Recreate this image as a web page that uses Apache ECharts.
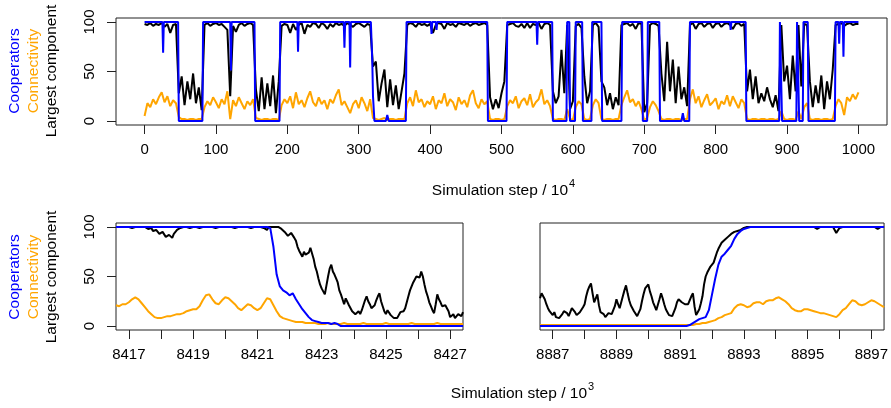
<!DOCTYPE html>
<html><head><meta charset="utf-8">
<script src="https://cdn.jsdelivr.net/npm/echarts@6/dist/echarts.min.js"></script>
<style>html,body{margin:0;padding:0;background:#fff}#c{width:891px;height:408px}</style>
</head><body><div id="c"></div>
<script>
// ---------- top panel (x in units of 10^4 steps, sampled every 4) ----------
const topStart = 0, topStep = 4;
const topConnectivity = [
  5,18,14,22,17,24,29,19,25,15,21,18,4,2,2,1,2,2,1,2,2,14,20,16,24,
  19,13,22,17,30,2,21,15,24,18,12,20,16,22,3,2,1,2,2,1,2,2,1,16,22,
  18,25,13,29,17,21,14,23,30,19,15,24,17,21,12,22,18,26,32,16,20,14,8,17,21,
  13,24,18,10,22,3,2,1,2,3,1,2,2,1,2,2,2,18,24,15,31,19,22,14,20,
  17,25,12,21,18,28,15,22,19,11,24,17,21,14,26,31,18,13,22,17,20,2,1,2,2,
  1,2,15,21,18,25,13,20,23,16,27,14,19,22,32,17,21,15,2,1,2,2,1,12,2,
  1,14,20,17,2,1,2,16,22,18,2,1,2,2,1,2,2,16,24,31,19,22,15,20,12,
  1,3,14,20,16,10,2,1,2,2,1,2,2,1,2,2,22,32,18,25,14,21,27,16,19,
  23,12,20,17,26,15,25,19,13,22,18,2,1,2,2,1,2,2,1,2,2,1,2,10,2,
  1,2,2,1,10,2,14,18,2,1,2,2,1,2,2,1,2,15,22,18,6,24,20,27,22,
  29
];
const topLargest = [
  98,97,99,96,98,97,99,95,98,89,97,98,28,45,16,40,22,48,18,34,11,97,99,96,98,
  99,97,98,95,92,25,96,90,97,99,96,98,99,97,32,10,44,12,38,15,46,8,40,96,98,
  97,89,98,92,97,99,88,97,95,99,98,94,99,97,93,98,95,99,97,98,96,99,97,95,98,
  99,97,95,98,97,55,60,20,38,52,14,42,16,36,12,30,48,97,99,98,95,99,97,98,96,
  98,89,97,99,98,93,99,97,98,95,99,98,97,99,96,98,99,97,98,99,97,24,12,22,13,
  28,40,97,98,99,96,95,98,94,99,94,98,97,99,93,98,99,97,30,18,25,72,28,97,12,
  20,96,98,94,45,18,30,97,99,95,40,34,16,28,12,24,16,97,98,99,96,98,93,99,98,
  9,18,97,99,98,96,48,20,80,30,62,18,55,22,34,15,97,99,93,98,99,95,98,99,94,
  98,99,95,98,99,97,93,98,99,96,98,30,52,22,45,18,28,20,34,22,14,26,10,97,40,
  56,22,66,30,97,35,98,97,40,14,36,18,46,12,40,22,52,97,98,99,96,98,99,97,98,
  98
];
const topCooperators = [
  [0,100],[25,100],[26,69],[27,100],[47,100],[48,0],[81,0],[82,100],[120,100],[121,51],[122,100],
  [154,100],[155,0],[189,0],[190,100],[214,100],[215,70],[216,100],[279,100],[280,74],[281,100],
  [287,100],[288,54],[289,100],[317,100],[319,60],[320,25],[322,0],[338,0],[340,6],[342,0],[366,0],
  [367,100],[401,100],[402,88],[403,100],[408,100],[409,92],[410,100],[480,100],[481,0],[507,0],
  [508,100],[549,100],[550,77],[551,100],[571,100],[572,0],[591,0],[592,100],[595,100],[596,0],
  [603,0],[604,100],[613,100],[614,0],[626,0],[627,100],[640,100],[641,0],[668,0],[669,100],
  [697,100],[698,0],[704,0],[705,100],[721,100],[722,0],[752,0],[754,8],[756,0],[763,0],[764,100],
  [820,100],[821,92],[822,100],[842,100],[843,0],[889,0],[890,100],[892,100],[893,0],[913,0],
  [914,100],[916,100],[917,0],[922,0],[923,100],[929,100],[930,0],[967,0],[968,100],[972,100],
  [973,78],[974,100],[978,100],[979,65],[980,100],[1000,100]
];
const topTicks = [0,100,200,300,400,500,600,700,800,900,1000];

// ---------- bottom-left panel (units of 10^3 steps) ----------
const leftStart = 8416.6, bottomStep = 0.1, fineStep = 0.05;
const leftConnectivity = [
  21,20,22,22,24,27,29,27,23,19,15,12,9,8,8,9,10,10,11,12,12,13,15,16,17,17,20,26,31,32,
  27,23,22,26,29,28,25,22,18,16,19,22,21,18,16,18,23,28,27,21,15,10,8,7,6,5,4,4,4,3,
  3,3,3,2,2,2,3,2,2,2,2,3,2,2,2,2,2,3,2,2,2,2,2,2,3,2,2,2,2,2,
  2,2,3,2,2,2,2,2,2,2,3,2,2,2,2,2,2,2,2
];
// sampled every 0.05
const leftLargest = [
  100,100,100,100,100,99,100,100,100,98,99,100,100,100,100,99,100,100,100,99,
  98,97,99,96,96,97,95,93,94,95,93,90,91,92,90,89,93,95,97,98,
  99,100,100,100,100,99,99,100,100,100,100,99,99,100,100,100,100,99,100,100,
  100,100,99,100,100,100,100,99,100,100,100,100,100,99,99,100,100,100,100,99,
  100,100,100,99,99,100,100,100,100,100,100,98,99,97,97,100,100,100,100,100,
  100,100,100,98,97,95,94,91,90,94,93,89,86,80,76,73,70,75,72,70,
  74,79,77,68,60,55,48,42,38,35,32,41,50,58,62,55,52,48,44,36,
  32,27,22,28,26,21,18,15,14,12,10,15,12,16,18,26,30,25,22,18,
  16,21,26,30,33,25,20,15,12,16,14,11,10,8,6,8,9,14,12,15,
  18,24,30,36,40,44,47,50,52,49,55,50,42,35,30,24,20,16,13,22,
  32,27,24,20,18,21,22,15,9,11,12,8,10,12,13,10,14
];
const leftCooperators = [
  100,100,100,100,100,100,100,100,100,100,100,100,100,100,100,100,100,100,100,100,
  100,100,100,100,100,100,100,100,100,100,100,100,100,100,100,100,100,100,100,100,
  100,100,100,100,100,100,100,100,99,80,52,40,36,34,31,33,27,22,17,13,
  9,6,5,4,3,3,3,2,3,2,0,0,0,0,0,0,0,0,0,0,
  0,0,0,0,0,0,0,0,0,0,0,0,0,0,0,0,0,0,0,0,
  0,0,0,0,0,0,0,0,0
];
const leftTicks = [8417,8418,8419,8420,8421,8422,8423,8424,8425,8426,8427];
const leftLabels = [8417,8419,8421,8423,8425,8427];

// ---------- bottom-right panel ----------
const rightStart = 8886.6;
const rightConnectivity = [
  1,1,1,1,1,1,1,1,1,1,1,1,1,1,1,1,1,1,1,1,1,1,1,1,1,1,1,1,1,1,
  1,1,1,1,1,1,1,1,1,1,1,1,1,1,1,1,1,1,1,2,2,3,3,4,5,6,8,9,11,12,
  13,18,21,22,21,19,20,23,24,24,22,25,26,26,28,29,27,25,22,18,16,15,15,17,17,16,15,14,13,13,
  12,11,10,9,12,16,18,22,26,25,22,21,22,24,26,25,23,21,19
];
// sampled every 0.05
const rightLargest = [
  28,33,35,27,22,18,15,13,11,14,9,8,8,10,12,15,17,13,10,14,
  18,16,14,11,12,14,16,19,22,30,36,40,43,33,24,28,32,21,14,12,
  12,9,11,13,15,12,12,20,27,22,18,24,30,36,41,33,26,21,18,15,
  13,10,12,17,25,32,38,40,42,35,30,24,20,16,18,27,33,28,22,17,
  14,11,9,10,12,18,24,27,28,24,26,22,20,22,24,30,33,20,11,14,
  17,23,30,42,50,54,57,60,61,64,69,74,78,81,84,86,87,89,90,91,
  93,94,95,95,96,97,97,98,99,100,100,100,100,100,100,100,100,100,100,100,
  100,100,100,100,100,100,100,100,100,100,100,100,100,100,100,100,100,100,100,100,
  100,100,100,100,100,100,100,100,100,100,100,100,100,99,98,100,100,100,100,100,
  100,100,100,100,100,97,94,96,99,100,100,100,100,100,100,100,100,100,100,100,
  100,100,100,100,100,100,100,100,100,100,100,99,98,100,100,100,100
];
const rightCooperators = [
  0,0,0,0,0,0,0,0,0,0,0,0,0,0,0,0,0,0,0,0,
  0,0,0,0,0,0,0,0,0,0,0,0,0,0,0,0,0,0,0,0,
  0,0,0,0,0,0,0,1,3,5,7,8,9,16,32,48,62,70,73,77,
  81,88,93,96,98,99,100,100,100,100,100,100,100,100,100,100,100,100,100,100,
  100,100,100,100,100,100,100,100,100,100,100,100,100,100,100,100,100,100,100,100,
  100,100,100,100,100,100,100,100,100
];
const rightTicks = [8887,8888,8889,8890,8891,8892,8893,8894,8895,8896,8897];
const rightLabels = [8887,8889,8891,8893,8895,8897];

const yTicks = [0,50,100];

// ---------- build ----------
const FONT = '"Liberation Sans", Arial, Helvetica, sans-serif';
const BLUE = '#0000FF', ORANGE = '#FFA500', BLACK = '#000000', FRAME = '#222';

function withX(arr, start, step, dec) {
  return arr.map((v, i) => [+(start + i * step).toFixed(dec), v]);
}
function line(xi, data, color) {
  return { type:'line', xAxisIndex:xi, yAxisIndex:xi, data, showSymbol:false, symbol:'none',
    lineStyle:{color, width:2}, itemStyle:{color}, animation:false, silent:true };
}
function xAx(g, min, max, ticks, labels) {
  return { type:'value', gridIndex:g, min, max, position:'bottom',
    axisLine:{show:false, onZero:false}, splitLine:{show:false},
    axisTick:{show:true, customValues:ticks, length:9, lineStyle:{color:FRAME, width:1}},
    axisLabel:{show:true, customValues:labels, margin:17, color:'#000', fontSize:15, fontFamily:FONT,
      formatter:v => String(Math.round(v))} };
}
function yAx(g, show) {
  return { type:'value', gridIndex:g, min:-4, max:104, position:'left',
    axisLine:{show:false, onZero:false}, splitLine:{show:false},
    axisTick:{show:show, customValues:yTicks, length:9, lineStyle:{color:FRAME, width:1}},
    axisLabel:{show:show, customValues:yTicks, rotate:90, margin:19, color:'#000', fontSize:15, fontFamily:FONT,
      formatter:v => String(Math.round(v))} };
}
const gridBase = { show:true, borderColor:FRAME, borderWidth:1, backgroundColor:'transparent', containLabel:false };

function ytitles(cy) {
  const mk = (x, text, fill) => ({ type:'text', x, y:cy, rotation:Math.PI/2,
    style:{ text, fill, font:'15.5px ' + FONT, align:'center', verticalAlign:'middle' } });
  return [mk(14.5, 'Cooperators', BLUE), mk(33.5, 'Connectivity', ORANGE), mk(52, 'Largest component', BLACK)];
}
function xtitle(xEnd, cy, sup) {
  return [
    { type:'text', x:xEnd, y:cy, style:{ text:'Simulation step / 10', fill:'#000', font:'15.5px ' + FONT, align:'right', verticalAlign:'middle' } },
    { type:'text', x:xEnd + 1, y:cy - 7, style:{ text:sup, fill:'#000', font:'11px ' + FONT, align:'left', verticalAlign:'middle' } }
  ];
}

const chart = echarts.init(document.getElementById('c'), null, { renderer:'canvas' });
chart.setOption({
  animation:false,
  backgroundColor:'#fff',
  grid:[
    Object.assign({ left:116, top:18, width:771, height:107 }, gridBase),
    Object.assign({ left:116, top:223, width:347, height:107 }, gridBase),
    Object.assign({ left:540, top:223, width:347, height:107 }, gridBase)
  ],
  xAxis:[
    xAx(0, -40, 1040, topTicks, topTicks),
    xAx(1, 8416.6, 8427.4, leftTicks, leftLabels),
    xAx(2, 8886.6, 8897.4, rightTicks, rightLabels)
  ],
  yAxis:[ yAx(0, true), yAx(1, true), yAx(2, false) ],
  series:[
    line(0, withX(topConnectivity, topStart, topStep, 0), ORANGE),
    line(0, withX(topLargest, topStart, topStep, 0), BLACK),
    line(0, topCooperators, BLUE),
    line(1, withX(leftConnectivity, leftStart, bottomStep, 1), ORANGE),
    line(1, withX(leftLargest, leftStart, fineStep, 2), BLACK),
    line(1, withX(leftCooperators, leftStart, bottomStep, 1), BLUE),
    line(2, withX(rightConnectivity, rightStart, bottomStep, 1), ORANGE),
    line(2, withX(rightLargest, rightStart, fineStep, 2), BLACK),
    line(2, withX(rightCooperators, rightStart, bottomStep, 1), BLUE)
  ],
  graphic:[].concat(ytitles(71), ytitles(277), xtitle(568, 191, '4'), xtitle(587, 394, '3'))
});
</script></body></html>
